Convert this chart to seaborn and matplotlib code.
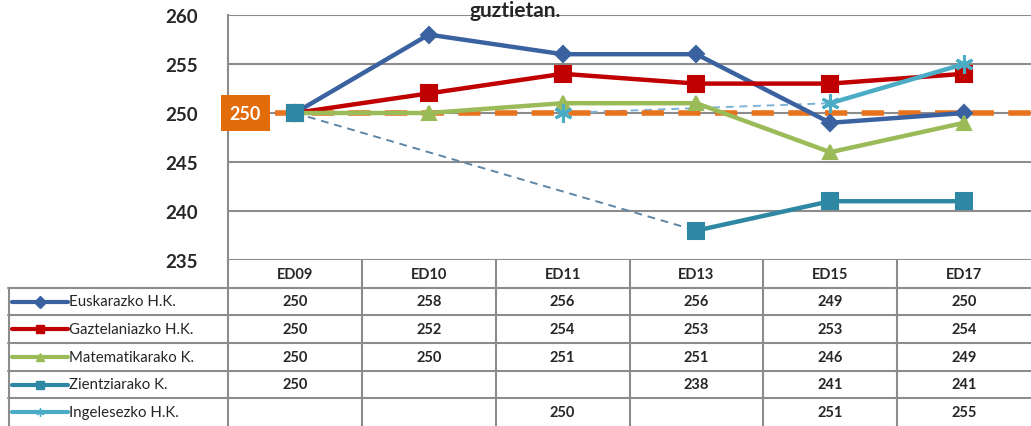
import numpy as np
import matplotlib
matplotlib.use("Agg")
import matplotlib.pyplot as plt
import seaborn as sns

# Data
waves = ["ED09", "ED10", "ED11", "ED13", "ED15", "ED17"]
series_names = ["Euskarazko H.K.", "Gaztelaniazko H.K.", "Matematikarako K.",
                "Zientziarako K.", "Ingelesezko H.K."]
euskara = [250, 258, 256, 256, 249, 250]
gaztelania = [250, 252, 254, 253, 253, 254]
matematika = [250, 250, 251, 251, 246, 249]
zientzia = [250, np.nan, np.nan, 238, 241, 241]
ingelesa = [np.nan, np.nan, 250, np.nan, 251, 255]
reference_score = 250
title_tail = "guztietan."

series_values = [euskara, gaztelania, matematika, zientzia, ingelesa]
colors = ["#3B62A0", "#C00000", "#9BBB59", "#2E87A3", "#4BACC6"]
markers = ["D", "s", "^", "s", (6, 2, 0)]
msizes = [8, 11, 10, 11, 13]
gap_colors = [None, None, None, "#5E86A6", "#7DB3D6"]
ref_color = "#E8731F"

sns.set_theme(style="white")
plt.rcParams["font.family"] = ["Lato", "DejaVu Sans"]

W, H = 1031, 427
fig = plt.figure(figsize=(W / 100, H / 100), dpi=100)

# main plot region (pixels)
left_px, right_px, top_px, bottom_px = 228, 1031, 16, 261
ax = fig.add_axes([left_px / W, 1 - bottom_px / H,
                   (right_px - left_px) / W, (bottom_px - top_px) / H])
xs = np.arange(len(waves))
ax.set_xlim(-0.5, len(waves) - 0.5)
ax.set_ylim(235, 260)
ax.set_yticks(range(235, 261, 5))
ax.set_xticks([])
ax.yaxis.grid(True, color="#8C8C8C", linewidth=1.5)
ax.set_axisbelow(True)
for s in ["top", "right", "bottom"]:
    ax.spines[s].set_visible(False)
ax.spines["left"].set_color("#8C8C8C")
ax.spines["left"].set_linewidth(1.5)
ax.tick_params(axis="y", length=8, width=1.5, color="#8C8C8C", pad=14,
               labelsize=13.5, labelcolor="#262626")
for lab in ax.get_yticklabels():
    lab.set_fontweight("bold")
ax.set_xlabel("")
ax.set_ylabel("")

# reference level line and its label box
sns.lineplot(x=[-0.15, len(waves) - 0.5], y=[reference_score] * 2, ax=ax,
             color=ref_color, linewidth=4, dashes=False, zorder=4)
ax.lines[-1].set_dashes([4, 2.6])
ax.text(-0.37, reference_score, str(reference_score), ha="center", va="center",
        color="white", fontsize=13, fontweight="bold", zorder=6, clip_on=False,
        bbox=dict(boxstyle="square,pad=0.5", fc="#E26B0A", ec="none"))

# series lines: solid over contiguous runs, thin dashed across gaps
for vals, c, m, ms, gc in zip(series_values, colors, markers, msizes, gap_colors):
    v = np.array(vals, dtype=float)
    valid = ~np.isnan(v)
    idx = np.where(valid)[0]
    for a, b in zip(idx[:-1], idx[1:]):
        if b - a > 1:
            sns.lineplot(x=[xs[a], xs[b]], y=[v[a], v[b]], ax=ax, color=gc,
                         linewidth=1.4, zorder=3)
            ax.lines[-1].set_dashes([4, 3])
    runs, cur = [], []
    for i in range(len(v)):
        if valid[i]:
            cur.append(i)
        elif cur:
            runs.append(cur); cur = []
    if cur:
        runs.append(cur)
    for r in runs:
        sns.lineplot(x=xs[r], y=v[r], ax=ax, color=c, linewidth=3.2,
                     marker=m, markersize=ms, markeredgecolor=c,
                     markeredgewidth=1.5 if m != (6, 2, 0) else 2.2, zorder=5)

fig.text(515 / W, 1 - 17 / H, title_tail, ha="center", va="baseline",
         fontsize=15, fontweight="bold", color="#262626")

# data table below the plot
tab_left_px = 8
px_per_unit = (right_px - left_px) / len(waves)
tx0 = -0.5 - (left_px - tab_left_px) / px_per_unit
tax = fig.add_axes([tab_left_px / W, 0, (right_px - tab_left_px) / W, 1 - bottom_px / H])
tax.set_xlim(tx0, len(waves) - 0.5)
nrows = len(series_names) + 1
tax.set_ylim(nrows, 0)
tax.axis("off")
grid_kw = dict(color="#8C8C8C", linewidth=1.5, clip_on=False)
# vertical cell borders
for k in range(len(waves)):
    tax.plot([k - 0.5, k - 0.5], [0, nrows], **grid_kw)
tax.plot([tx0 + 0.01, tx0 + 0.01], [1, nrows], **grid_kw)
# horizontal cell borders
for r in range(1, nrows):
    tax.plot([tx0, len(waves) - 0.5], [r, r], **grid_kw)

for k, w in enumerate(waves):
    tax.text(k, 0.5, w, ha="center", va="center", fontsize=10.5,
             fontweight="bold", color="#262626")
for r, (name, vals, c, m) in enumerate(zip(series_names, series_values, colors, markers), start=1):
    kx = [tx0 + 0.03, tx0 + 0.45]
    tax.plot(kx, [r + 0.5] * 2, color=c, linewidth=3, clip_on=False)
    tax.plot([np.mean(kx)], [r + 0.5], color=c, marker=m, markersize=6,
             markeredgecolor=c, clip_on=False)
    tax.text(tx0 + 0.455, r + 0.5, name, ha="left", va="center",
             fontsize=10.8, color="#262626")
    for k, v in enumerate(vals):
        if not np.isnan(v):
            tax.text(k, r + 0.5, f"{v:.0f}", ha="center", va="center",
                     fontsize=10.5, fontweight="bold", color="#262626")

fig.savefig("out.png", dpi=100)
